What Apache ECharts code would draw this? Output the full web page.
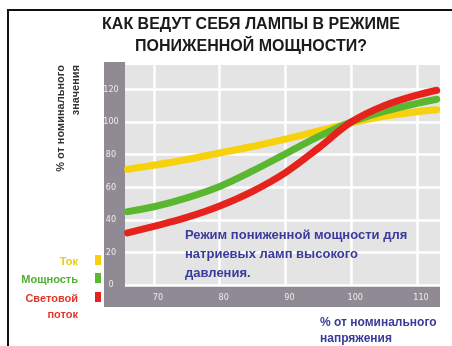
<!DOCTYPE html>
<html>
<head>
<meta charset="utf-8">
<script src="https://cdn.jsdelivr.net/npm/echarts@6/dist/echarts.min.js"></script>
<style>
  html, body { margin: 0; padding: 0; background: #ffffff; }
  #chart { width: 452px; height: 346px; }
</style>
</head>
<body>
<div id="chart"></div>
<script>
// Supply voltage, % of nominal
var voltage = [66, 70, 75, 80, 85, 90, 95, 100, 105, 110, 113];
// Lamp current, % of nominal
var current = [71, 73.5, 77, 81, 85, 89.5, 94.5, 99.5, 103.5, 106.3, 107.5];
// Lamp power, % of nominal
var power = [45, 48, 53.5, 60.5, 70, 80.5, 91, 100, 106.5, 111.5, 114];
// Luminous flux, % of nominal
var flux = [32, 36, 41.5, 48.5, 57.5, 69, 84, 100, 110, 116.5, 119.5];

var seriesNames = ['Ток', 'Мощность', 'Световой\nпоток'];
var seriesColors = ['#f7d20c', '#5bb630', '#e5221c'];
var legendTextColors = ['#eccb10', '#4fae34', '#e2382a'];

var titleLines = ['КАК ВЕДУТ СЕБЯ ЛАМПЫ В РЕЖИМЕ', 'ПОНИЖЕННОЙ МОЩНОСТИ?'];
var yTitleLines = ['% от номинального', 'значения'];
var xTitleLines = ['% от номинального', 'напряжения'];
var noteLines = ['Режим пониженной мощности для', 'натриевых ламп высокого', 'давления.'];

function pairs(ys) {
  return voltage.map(function (v, i) { return [v, ys[i]]; });
}

var chart = echarts.init(document.getElementById('chart'), null, { renderer: 'canvas' });

var bandColor = '#8f8a94';
var labelFont = 'DejaVu Sans Condensed';

var graphics = [
  // frame lines
  { type: 'rect', shape: { x: 7, y: 9, width: 445, height: 2 }, style: { fill: '#111' }, z: 1 },
  { type: 'rect', shape: { x: 7, y: 9, width: 2, height: 337 }, style: { fill: '#111' }, z: 1 },
  // axis bands
  { type: 'rect', shape: { x: 104, y: 62, width: 21, height: 245 }, style: { fill: bandColor }, z: 1 },
  { type: 'rect', shape: { x: 104, y: 285, width: 336, height: 22 }, style: { fill: bandColor }, z: 1 },
  // title
  { type: 'text', x: 251, y: 25, z: 40, style: { text: titleLines[0], fill: '#1b1b1b', font: 'bold 16px "Liberation Sans", Arial, sans-serif', align: 'center', verticalAlign: 'middle' } },
  { type: 'text', x: 251, y: 47, z: 40, style: { text: titleLines[1], fill: '#1b1b1b', font: 'bold 16px "Liberation Sans", Arial, sans-serif', align: 'center', verticalAlign: 'middle' } },
  // y axis title (rotated)
  { type: 'text', x: 61, y: 65, rotation: Math.PI / 2, z: 40, style: { text: yTitleLines[0], fill: '#333', font: 'bold 11px "Liberation Sans", Arial, sans-serif', align: 'right', verticalAlign: 'middle' } },
  { type: 'text', x: 76, y: 65, rotation: Math.PI / 2, z: 40, style: { text: yTitleLines[1], fill: '#333', font: 'bold 11px "Liberation Sans", Arial, sans-serif', align: 'right', verticalAlign: 'middle' } },
  // x axis title
  { type: 'text', x: 320, y: 315, z: 40, style: { text: xTitleLines.join('\n'), fill: '#3a3a98', font: 'bold 12px "Liberation Sans", Arial, sans-serif', lineHeight: 16, align: 'left', verticalAlign: 'top' } },
  // note inside the plot
  { type: 'text', x: 185, y: 226, z: 40, style: { text: noteLines.join('\n'), fill: '#3b3b9b', font: 'bold 13px "Liberation Sans", Arial, sans-serif', lineHeight: 19, align: 'left', verticalAlign: 'top' } }
];

// legend: right-aligned names with a small colour marker next to each
var legendY = [260, 278, 297];
seriesNames.forEach(function (name, i) {
  graphics.push({
    type: 'text', x: 78, y: legendY[i] - 6, z: 40,
    style: { text: name, fill: legendTextColors[i], font: 'bold 11px "Liberation Sans", Arial, sans-serif', lineHeight: 16, align: 'right', verticalAlign: 'top' }
  });
  graphics.push({
    type: 'rect', z: 40, shape: { x: 95, y: legendY[i] - 5, width: 6, height: 10 },
    style: { fill: seriesColors[i] }
  });
});

function lineSeries(i, values) {
  return {
    name: seriesNames[i], type: 'line', data: pairs(values),
    smooth: 0.35, showSymbol: false, clip: false, z: 20 + i,
    lineStyle: { color: seriesColors[i], width: 7, cap: 'round', join: 'round' }
  };
}

var option = {
  backgroundColor: '#ffffff',
  animation: false,
  grid: {
    left: 125, right: 12, top: 65, bottom: 61,
    show: true, backgroundColor: '#e4e4e4', borderWidth: 0
  },
  xAxis: {
    type: 'value', min: 65.6, max: 113.5, z: 10,
    axisLine: { show: false }, axisTick: { show: false },
    splitLine: { show: true, showMinLine: false, showMaxLine: false, lineStyle: { color: '#ffffff', width: 2.5 } },
    axisLabel: {
      color: '#ececec', fontFamily: labelFont, fontSize: 9, margin: 8,
      padding: [0, 0, 0, 8],
      formatter: function (v) { return Math.abs(v % 10) < 1e-6 ? String(v) : ''; }
    }
  },
  yAxis: {
    type: 'value', min: 0, max: 135, interval: 20, z: 10,
    axisLine: { show: false }, axisTick: { show: false },
    splitLine: { show: true, showMaxLine: false, lineStyle: { color: '#ffffff', width: 2.5 } },
    axisLabel: {
      color: '#ececec', fontFamily: labelFont, fontSize: 9, margin: 14, align: 'center',
      padding: [6, 0, 0, 0],
      formatter: function (v) { return v % 20 === 0 ? String(v) : ''; }
    }
  },
  series: [
    lineSeries(0, current),
    lineSeries(1, power),
    lineSeries(2, flux)
  ],
  graphic: { elements: graphics }
};

chart.setOption(option);
</script>
</body>
</html>
